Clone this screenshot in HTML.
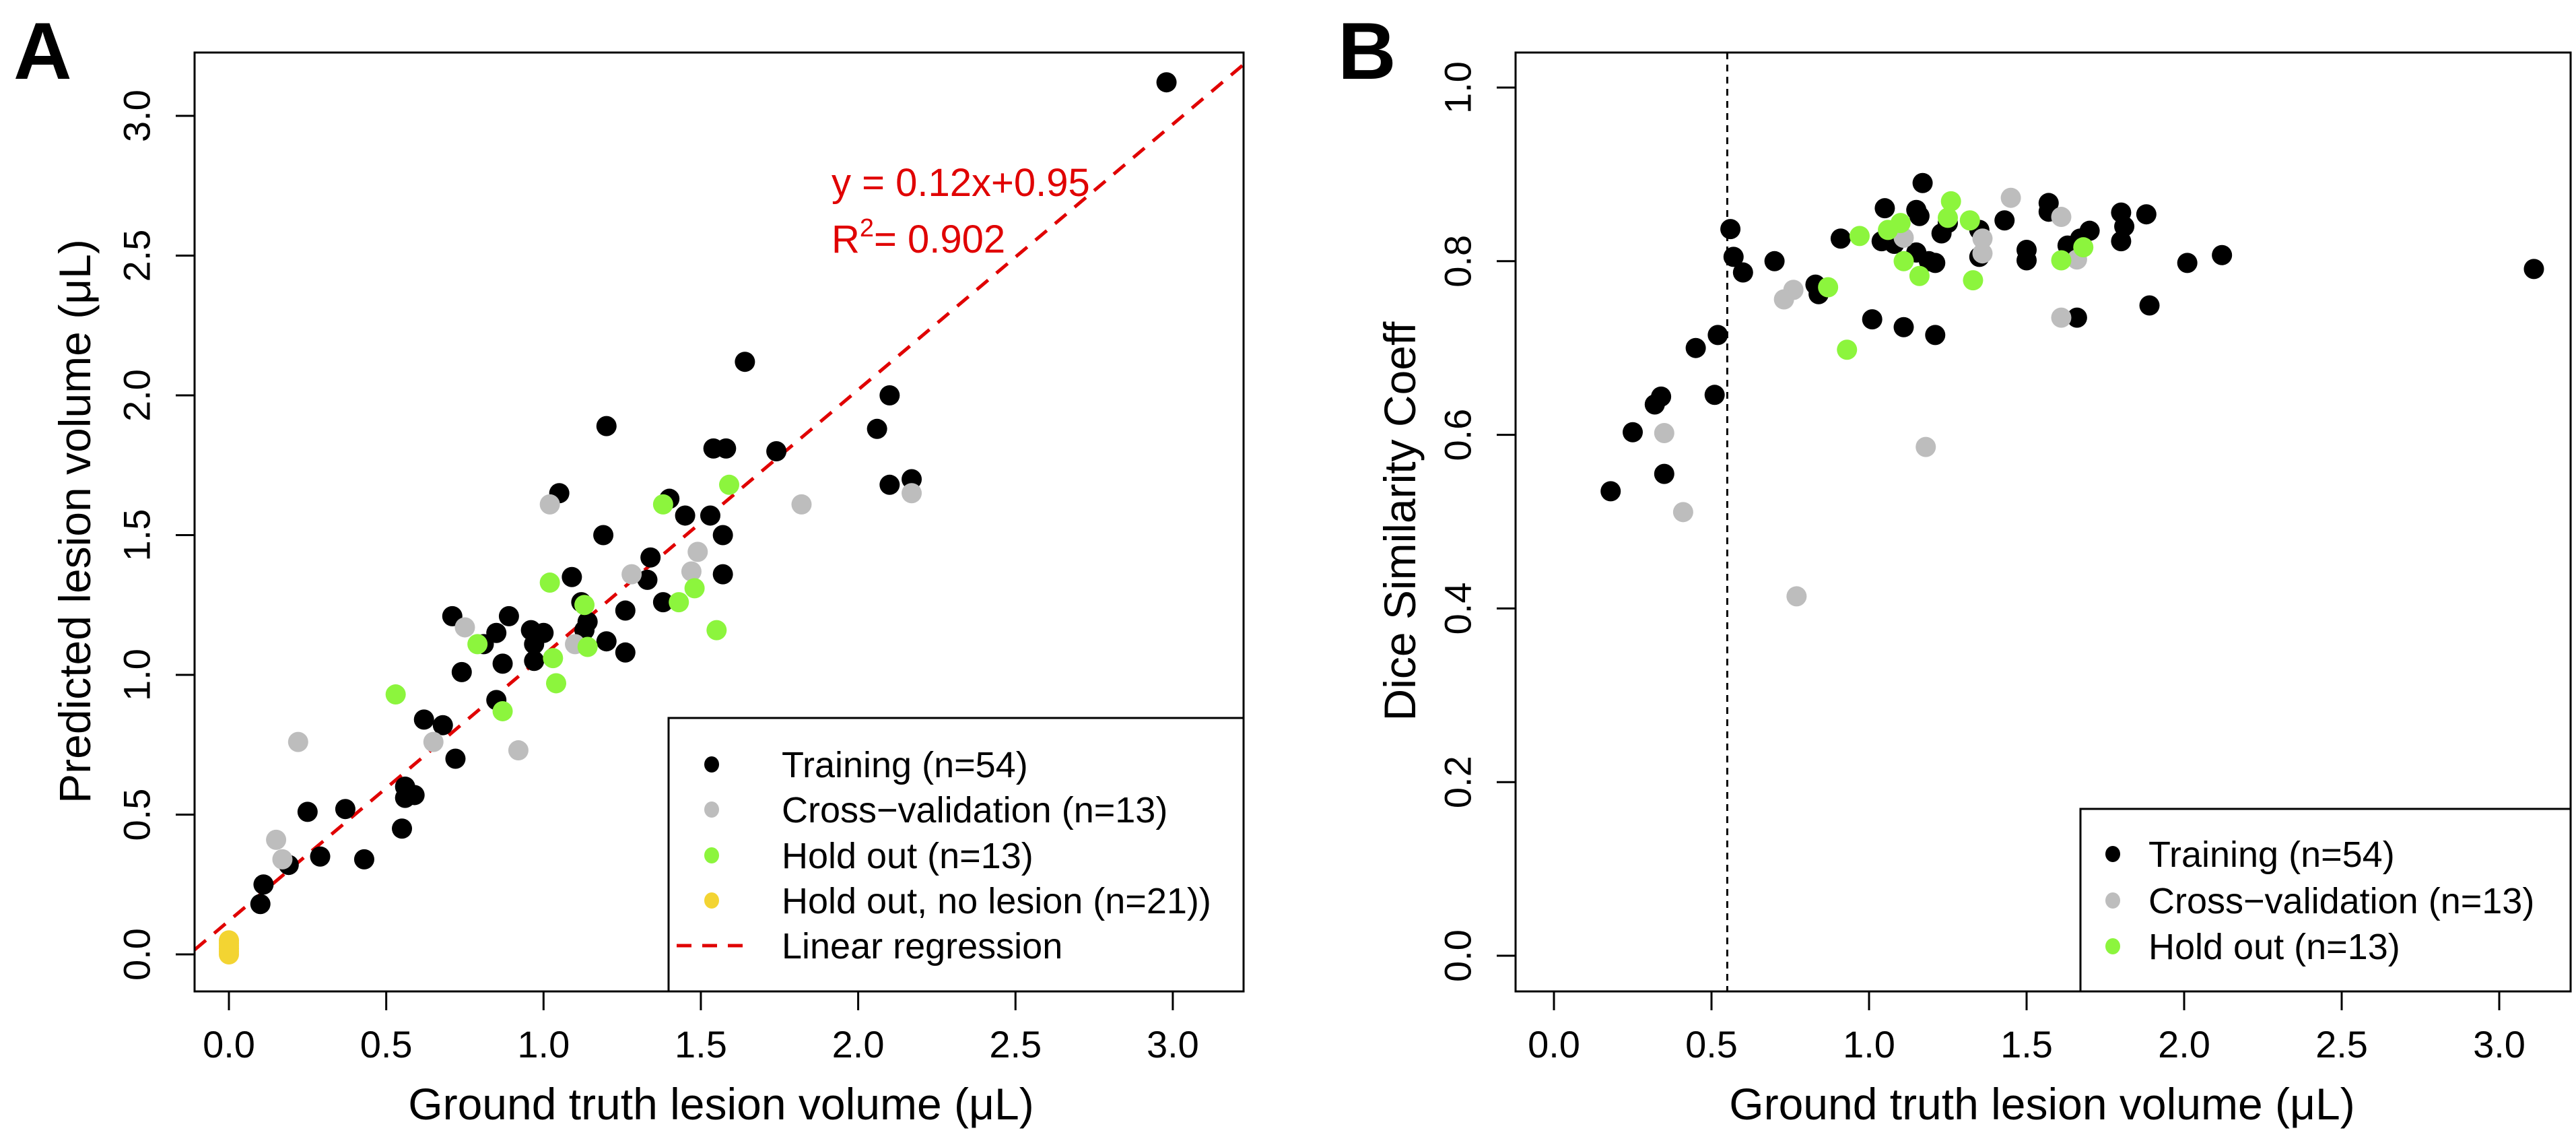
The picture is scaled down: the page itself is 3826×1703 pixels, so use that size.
<!DOCTYPE html>
<html><head><meta charset="utf-8">
<style>
html,body{margin:0;padding:0;background:#fff;}
svg{display:block;font-family:"Liberation Sans",Arial,sans-serif;}
</style></head>
<body>
<svg id="fig" width="3826" height="1703" viewBox="0 0 3826 1703" xmlns="http://www.w3.org/2000/svg">
<rect x="0" y="0" width="3826" height="1703" fill="#fff"/>
<g id="pa"></g>
<g id="pb"></g>
</svg>
<script>
// ---- Panel A data ----
const aTrainX = [2.98,1.64,2.10,2.06,2.10,2.17,1.20,1.74,1.54,1.58,1.05,1.19,1.40,1.45,1.53,1.57,1.57,1.09,1.34,1.33,1.38,1.26,1.26,1.20,1.12,1.13,1.14,0.71,0.89,0.85,0.96,1.00,0.97,0.97,0.87,0.81,0.74,0.85,0.62,0.68,0.72,0.56,0.56,0.59,0.55,0.37,0.25,0.29,0.43,0.19,0.11,0.10];
const aTrainY = [3.12,2.12,2.00,1.88,1.68,1.70,1.89,1.80,1.81,1.81,1.65,1.50,1.63,1.57,1.57,1.50,1.36,1.35,1.42,1.34,1.26,1.23,1.08,1.12,1.26,1.16,1.19,1.21,1.21,1.15,1.16,1.15,1.11,1.05,1.04,1.11,1.01,0.91,0.84,0.82,0.70,0.60,0.56,0.57,0.45,0.52,0.51,0.35,0.34,0.32,0.25,0.18];
const aCvX = [1.02,1.82,2.17,1.49,1.47,1.28,0.75,1.10,0.65,0.92,0.22,0.15,0.17];
const aCvY = [1.61,1.61,1.65,1.44,1.37,1.36,1.17,1.11,0.76,0.73,0.76,0.41,0.34];
const aHoX = [1.38,1.59,1.02,1.13,1.43,1.48,1.55,0.79,1.14,1.03,1.04,0.53,0.87];
const aHoY = [1.61,1.68,1.33,1.25,1.26,1.31,1.16,1.11,1.10,1.06,0.97,0.93,0.87];
const aNoX = [0,0,0,0,0,0];
const aNoY = [0.05,0.04,0.03,0.02,0.01,0.0];
const regSlope = 0.95, regIntercept = 0.12;
const aXTicks = [0,0.5,1,1.5,2,2.5,3];
const aXTickLabels = ["0.0","0.5","1.0","1.5","2.0","2.5","3.0"];
const aYTicks = [0,0.5,1,1.5,2,2.5,3];
const aYTickLabels = ["0.0","0.5","1.0","1.5","2.0","2.5","3.0"];
// ---- Panel B data ----
const bTrainX = [3.11,2.12,2.01,1.89,1.88,1.80,1.81,1.80,1.70,1.67,1.66,1.63,1.57,1.57,1.50,1.50,1.43,1.35,1.35,1.25,1.23,1.17,1.15,1.16,1.15,1.19,1.21,1.21,1.11,1.01,1.05,1.04,1.08,0.91,0.83,0.84,0.70,0.60,0.57,0.56,0.52,0.51,0.45,0.34,0.32,0.25,0.35,0.18];
const bTrainY = [0.791,0.807,0.798,0.749,0.854,0.856,0.840,0.823,0.835,0.826,0.735,0.818,0.867,0.857,0.813,0.801,0.847,0.836,0.805,0.844,0.832,0.890,0.859,0.852,0.810,0.800,0.798,0.715,0.724,0.733,0.861,0.823,0.820,0.826,0.773,0.762,0.800,0.787,0.805,0.837,0.715,0.646,0.700,0.644,0.635,0.603,0.555,0.535];
const bCvX = [1.45,1.61,1.61,1.66,1.36,1.36,1.11,0.76,0.73,0.35,0.41,1.18,0.77];
const bCvY = [0.873,0.851,0.735,0.802,0.826,0.809,0.827,0.767,0.756,0.602,0.511,0.586,0.414];
const bHoX = [1.26,1.25,1.32,1.10,1.06,0.97,1.11,1.16,1.33,1.61,1.68,0.87,0.93];
const bHoY = [0.869,0.850,0.847,0.844,0.836,0.829,0.800,0.783,0.778,0.801,0.816,0.770,0.698];
const bThreshold = 0.55;
const bXTicks = [0,0.5,1,1.5,2,2.5,3];
const bXTickLabels = ["0.0","0.5","1.0","1.5","2.0","2.5","3.0"];
const bYTicks = [0,0.2,0.4,0.6,0.8,1.0];
const bYTickLabels = ["0.0","0.2","0.4","0.6","0.8","1.0"];

const NS = "http://www.w3.org/2000/svg";
function mk(parent, tag, attrs, text){
  const e = document.createElementNS(NS, tag);
  for (const k in attrs) e.setAttribute(k, attrs[k]);
  if (text !== undefined) e.textContent = text;
  parent.appendChild(e);
  return e;
}
const BLACK="#000", GRAY="#bdbdbd", GREEN="#8cf53d", YELLOW="#f3d432", RED="#e00000";

function panel(g, cfg){
  const {L,R,T,B,x0,xs,y0,ys} = cfg;
  const sx = v => x0 + v*xs;
  const sy = v => y0 - v*ys;
  // clip
  const cid = cfg.id + "-clip";
  const defs = mk(g,"defs",{});
  const cp = mk(defs,"clipPath",{id:cid});
  mk(cp,"rect",{x:L,y:T,width:R-L,height:B-T});
  // x ticks
  cfg.xTicks.forEach((v,i)=>{
    const t = mk(g,"line",{x1:sx(v),x2:sx(v),y1:B,y2:B+28,stroke:"#000","stroke-width":3});
    
    
    const l = mk(g,"text",{x:sx(v),y:1570,"font-size":56,"text-anchor":"middle"},cfg.xTickLabels[i]);
    
    
  });
  cfg.yTicks.forEach((v,i)=>{
    const t = mk(g,"line",{x1:L-28,x2:L,y1:sy(v),y2:sy(v),stroke:"#000","stroke-width":3});
    
    
    const lx = cfg.yLabX;
    const l = mk(g,"text",{x:lx,y:sy(v),"font-size":56,"text-anchor":"middle","dominant-baseline":"central",transform:`rotate(-90 ${lx} ${sy(v)})`},cfg.yTickLabels[i]);
    
    
  });
  const xt = mk(g,"text",{x:cfg.xTitleX,y:1662,"font-size":66,"text-anchor":"middle"},"Ground truth lesion volume (\u03bcL)");
  
  
  const ty = 774;
  const yt = mk(g,"text",{x:cfg.yTitleX,y:ty,"font-size":66,"text-anchor":"middle","dominant-baseline":"central",transform:`rotate(-90 ${cfg.yTitleX} ${ty})`},cfg.yTitle);
  
  
  const lt = mk(g,"text",{x:cfg.letterX,y:117,"font-size":120,"font-weight":"bold"},cfg.letter);
  
  
  const plot = mk(g,"g",{"clip-path":`url(#${cid})`});
  return {sx,sy,plot};
}
function dots(plot, sx, sy, xs, ys, color, name){
  xs.forEach((v,i)=>{
    const d = mk(plot,"ellipse",{cx:sx(v),cy:sy(ys[i]),rx:15,ry:15,fill:color});
    
    
  });
}
function legend(g, box, entries){
  const r = mk(g,"rect",{x:box.x,y:box.y,width:box.w,height:box.h,fill:"#fff",stroke:"#000","stroke-width":3});
  
  
  entries.forEach(e=>{
    if (e.line){
      const l = mk(g,"line",{x1:box.symX-52,x2:box.symX+55,y1:e.y,y2:e.y,stroke:RED,"stroke-width":5,"stroke-dasharray":"22 16"});
      
      
    } else {
      const c = mk(g,"ellipse",{cx:box.symX,cy:e.y,rx:11,ry:12,fill:e.color});
      
      
    }
    const t = mk(g,"text",{x:box.textX,y:e.y+19,"font-size":54},e.label);
    
    
  });
}

// ---- Panel A ----
const ga = document.getElementById('pa');
const A = panel(ga,{id:"a",L:289,R:1847,T:78,B:1472,x0:340,xs:467.3,y0:1417,ys:415,
  xTicks:aXTicks,xTickLabels:aXTickLabels,yTicks:aYTicks,yTickLabels:aYTickLabels,
  yLabX:203,xTitleX:1071,yTitleX:111,yTitle:"Predicted lesion volume (\u03bcL)",letter:"A",letterX:20});
const xa0 = (289-340)/467.3, xa1 = (1847-340)/467.3;
const reg = mk(A.plot,"line",{x1:A.sx(xa0),y1:A.sy(regIntercept+regSlope*xa0),x2:A.sx(xa1),y2:A.sy(regIntercept+regSlope*xa1),stroke:RED,"stroke-width":5,"stroke-dasharray":"22 16"});


dots(A.plot,A.sx,A.sy,aTrainX,aTrainY,BLACK,'training-point');
dots(A.plot,A.sx,A.sy,aCvX,aCvY,GRAY,'cross-validation-point');
dots(A.plot,A.sx,A.sy,aHoX,aHoY,GREEN,'hold-out-point');
dots(A.plot,A.sx,A.sy,aNoX,aNoY,YELLOW,'no-lesion-point');
const eq = mk(ga,"text",{x:1235,y:291,"font-size":58,fill:RED},"y = 0.12x+0.95");


const r2 = mk(ga,"text",{x:1235,y:375,"font-size":58,fill:RED});


r2.innerHTML = 'R<tspan dy="-24" font-size="38">2</tspan><tspan dy="24">= 0.902</tspan>';
legend(ga,{x:993,y:1066,w:854,h:406,symX:1057,textX:1161},[
  {y:1135,color:BLACK,label:"Training (n=54)"},
  {y:1202,color:GRAY,label:"Cross\u2212validation (n=13)"},
  {y:1270,color:GREEN,label:"Hold out (n=13)"},
  {y:1337,color:YELLOW,label:"Hold out, no lesion (n=21))"},
  {y:1404,line:true,label:"Linear regression"}]);
const fa = mk(ga,"rect",{x:289,y:78,width:1558,height:1394,fill:"none",stroke:"#000","stroke-width":3});



// ---- Panel B ----
const gb = document.getElementById('pb');
const Bp = panel(gb,{id:"b",L:2251,R:3818,T:78,B:1472,x0:2308,xs:468,y0:1419,ys:1289,
  xTicks:bXTicks,xTickLabels:bXTickLabels,yTicks:bYTicks,yTickLabels:bYTickLabels,
  yLabX:2165,xTitleX:3033,yTitleX:2079,yTitle:"Dice Similarity Coeff",letter:"B",letterX:1987});
const th = mk(Bp.plot,"line",{x1:Bp.sx(bThreshold),x2:Bp.sx(bThreshold),y1:78,y2:1472,stroke:"#000","stroke-width":3,"stroke-dasharray":"10 8"});


dots(Bp.plot,Bp.sx,Bp.sy,bTrainX,bTrainY,BLACK,'training-point');
dots(Bp.plot,Bp.sx,Bp.sy,bCvX,bCvY,GRAY,'cross-validation-point');
dots(Bp.plot,Bp.sx,Bp.sy,bHoX,bHoY,GREEN,'hold-out-point');
legend(gb,{x:3090,y:1201,w:728,h:271,symX:3138,textX:3191},[
  {y:1268,color:BLACK,label:"Training (n=54)"},
  {y:1337,color:GRAY,label:"Cross\u2212validation (n=13)"},
  {y:1405,color:GREEN,label:"Hold out (n=13)"}]);
const fb = mk(gb,"rect",{x:2251,y:78,width:1567,height:1394,fill:"none",stroke:"#000","stroke-width":3});


</script>
</body></html>
